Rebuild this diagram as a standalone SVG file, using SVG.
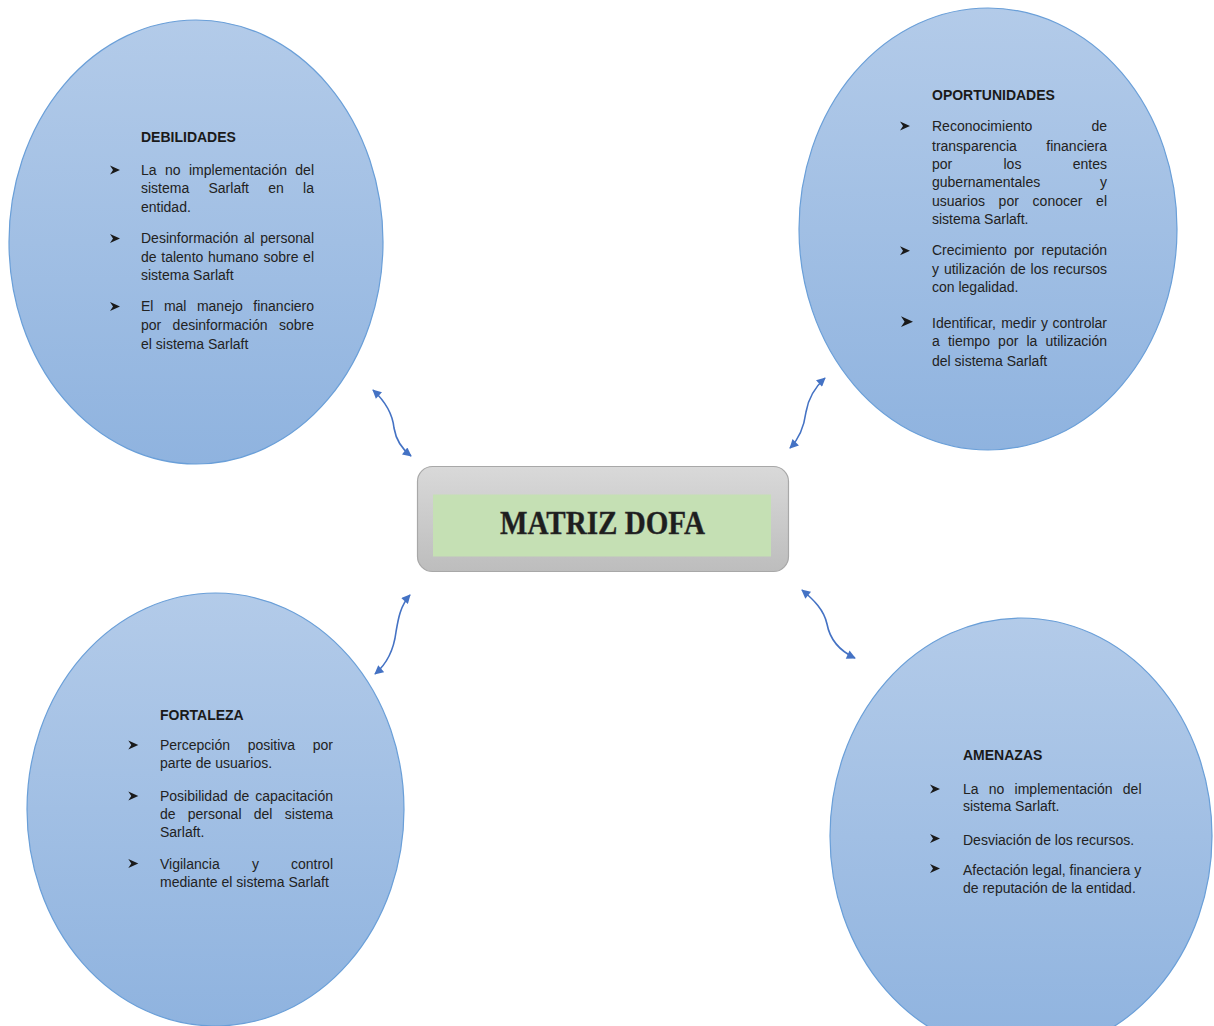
<svg xmlns="http://www.w3.org/2000/svg" xmlns:xlink="http://www.w3.org/1999/xlink" width="1214" height="1026" viewBox="0 0 1214 1026">
<defs>
<linearGradient id="eg" x1="0" y1="0" x2="0" y2="1">
<stop offset="0" stop-color="#b3cbe9"/>
<stop offset="1" stop-color="#8fb3df"/>
</linearGradient>
<linearGradient id="bg" x1="0" y1="0" x2="0" y2="1">
<stop offset="0" stop-color="#d9d9d9"/>
<stop offset="1" stop-color="#bdbdbd"/>
</linearGradient>
<marker id="ah" viewBox="0 0 10 10" refX="9" refY="5" markerWidth="10" markerHeight="9" markerUnits="userSpaceOnUse" orient="auto-start-reverse">
<path d="M0,0 L10,5 L0,10 z" fill="#4472c4"/>
</marker>
<path id="bul" d="M0,-4.5 L10,0 L0,4.5 L3,0 Z" fill="#1a1a1a"/>
<style>
.ell{fill:url(#eg);stroke:#6a9fd8;stroke-width:1.2}
.t{font-family:"Liberation Sans",Arial,sans-serif;font-size:14px;fill:#222}
.h{font-family:"Liberation Sans",Arial,sans-serif;font-size:14px;font-weight:bold;fill:#1a1a1a}
.e{text-anchor:end}
.con{fill:none;stroke:#4472c4;stroke-width:1.6;marker-start:url(#ah);marker-end:url(#ah)}
</style>
</defs>
<rect width="1214" height="1026" fill="#ffffff"/>

<g id="debilidades">
<ellipse class="ell" cx="196" cy="242" rx="187" ry="222"/>
<text class="h" x="141" y="141.5">DEBILIDADES</text>
<use xlink:href="#bul" x="110" y="170"/>
<text class="t" y="174.5"><tspan x="141">La</tspan><tspan x="165">no</tspan><tspan x="189">implementación</tspan><tspan x="314" class="e" text-anchor="end">del</tspan></text>
<text class="t" y="193"><tspan x="141">sistema</tspan><tspan x="208.5">Sarlaft</tspan><tspan x="268.2">en</tspan><tspan x="314" text-anchor="end">la</tspan></text>
<text class="t" x="141" y="211.5">entidad.</text>
<use xlink:href="#bul" x="110" y="238.5"/>
<text class="t" y="243"><tspan x="141">Desinformación</tspan><tspan x="243.8">al</tspan><tspan x="314" text-anchor="end">personal</tspan></text>
<text class="t" y="261.5"><tspan x="141">de</tspan><tspan x="161.3">talento</tspan><tspan x="208">humano</tspan><tspan x="263.4">sobre</tspan><tspan x="314" text-anchor="end">el</tspan></text>
<text class="t" x="141" y="280">sistema Sarlaft</text>
<use xlink:href="#bul" x="110" y="306.5"/>
<text class="t" y="311"><tspan x="141">El</tspan><tspan x="163.9">mal</tspan><tspan x="196.9">manejo</tspan><tspan x="314" text-anchor="end">financiero</tspan></text>
<text class="t" y="329.5"><tspan x="141">por</tspan><tspan x="172.6">desinformación</tspan><tspan x="314" text-anchor="end">sobre</tspan></text>
<text class="t" x="141" y="349">el sistema Sarlaft</text>
</g>

<g id="oportunidades">
<ellipse class="ell" cx="988" cy="229" rx="189" ry="221"/>
<text class="h" x="932" y="99.7">OPORTUNIDADES</text>
<use xlink:href="#bul" x="900" y="126"/>
<text class="t" y="130.5"><tspan x="932">Reconocimiento</tspan><tspan x="1107" text-anchor="end">de</tspan></text>
<text class="t" y="150.5"><tspan x="932">transparencia</tspan><tspan x="1107" text-anchor="end">financiera</tspan></text>
<text class="t" y="169"><tspan x="932">por</tspan><tspan x="1003.5">los</tspan><tspan x="1107" text-anchor="end">entes</tspan></text>
<text class="t" y="187"><tspan x="932">gubernamentales</tspan><tspan x="1107" text-anchor="end">y</tspan></text>
<text class="t" y="205.5"><tspan x="932">usuarios</tspan><tspan x="998.6">por</tspan><tspan x="1032.6">conocer</tspan><tspan x="1107" text-anchor="end">el</tspan></text>
<text class="t" x="932" y="223.5">sistema Sarlaft.</text>
<use xlink:href="#bul" x="900" y="250.7"/>
<text class="t" y="255.2"><tspan x="932">Crecimiento</tspan><tspan x="1014">por</tspan><tspan x="1107" text-anchor="end">reputación</tspan></text>
<text class="t" y="273.5"><tspan x="932">y</tspan><tspan x="943.9">utilización</tspan><tspan x="1010.2">de</tspan><tspan x="1030.6">los</tspan><tspan x="1107" text-anchor="end">recursos</tspan></text>
<text class="t" x="932" y="291.8">con legalidad.</text>
<use xlink:href="#bul" x="901" y="321.7" transform="translate(901 321.7) scale(1.2) translate(-901 -321.7)"/>
<text class="t" y="327.8"><tspan x="932">Identificar,</tspan><tspan x="1001.2">medir</tspan><tspan x="1040.9">y</tspan><tspan x="1107" text-anchor="end">controlar</tspan></text>
<text class="t" y="346.2"><tspan x="932">a</tspan><tspan x="947.9">tiempo</tspan><tspan x="998.1">por</tspan><tspan x="1026.5">la</tspan><tspan x="1107" text-anchor="end">utilización</tspan></text>
<text class="t" x="932" y="366">del sistema Sarlaft</text>
</g>

<g id="fortaleza">
<ellipse class="ell" cx="215.5" cy="809.5" rx="188.5" ry="216.5"/>
<text class="h" x="160" y="719.7">FORTALEZA</text>
<use xlink:href="#bul" x="128.3" y="745"/>
<text class="t" y="749.5"><tspan x="160">Percepción</tspan><tspan x="247.7">positiva</tspan><tspan x="333" text-anchor="end">por</tspan></text>
<text class="t" x="160" y="767.8">parte de usuarios.</text>
<use xlink:href="#bul" x="128.3" y="796"/>
<text class="t" y="800.5"><tspan x="160">Posibilidad</tspan><tspan x="233.7">de</tspan><tspan x="333" text-anchor="end">capacitación</tspan></text>
<text class="t" y="818.5"><tspan x="160">de</tspan><tspan x="187.8">personal</tspan><tspan x="253.8">del</tspan><tspan x="333" text-anchor="end">sistema</tspan></text>
<text class="t" x="160" y="836.8">Sarlaft.</text>
<use xlink:href="#bul" x="128.3" y="863.5"/>
<text class="t" y="868.5"><tspan x="160">Vigilancia</tspan><tspan x="252">y</tspan><tspan x="333" text-anchor="end">control</tspan></text>
<text class="t" x="160" y="887">mediante el sistema Sarlaft</text>
</g>

<g id="amenazas">
<ellipse class="ell" cx="1021" cy="836" rx="191" ry="218"/>
<text class="h" x="963" y="759.7">AMENAZAS</text>
<use xlink:href="#bul" x="930" y="789"/>
<text class="t" y="793.8"><tspan x="963">La</tspan><tspan x="988.8">no</tspan><tspan x="1014.6">implementación</tspan><tspan x="1141.5" text-anchor="end">del</tspan></text>
<text class="t" x="963" y="811.2">sistema Sarlaft.</text>
<use xlink:href="#bul" x="930" y="838.5"/>
<text class="t" x="963" y="844.5">Desviación de los recursos.</text>
<use xlink:href="#bul" x="930" y="868.5"/>
<text class="t" x="963" y="874.5">Afectación legal, financiera y</text>
<text class="t" x="963" y="892.8">de reputación de la entidad.</text>
</g>

<g id="matriz">
<rect x="417.5" y="466.5" width="371" height="105" rx="15" fill="url(#bg)" stroke="#a8a8a8" stroke-width="1.2"/>
<rect x="433" y="494.5" width="338" height="62" fill="#c5e0b4"/>
<text x="602.5" y="534" text-anchor="middle" font-family="'Liberation Serif','DejaVu Serif',serif" font-weight="bold" font-size="33" fill="#1e1e1e" stroke="#333" stroke-width="0.4" textLength="205" lengthAdjust="spacingAndGlyphs">MATRIZ DOFA</text>
</g>

<g id="connectors">
<path class="con" d="M373,390 C388,404 393,418 394,428 C396,440 402,449 411,456"/>
<path class="con" d="M825,378 C813,389 808,400 806,412 C804,427 800,438 790,448"/>
<path class="con" d="M410,595 C400,606 398,620 396,632 C394,648 389,662 375,674"/>
<path class="con" d="M802,590 C814,600 824,610 827,624 C830,640 840,651 855,658"/>
</g>
</svg>
